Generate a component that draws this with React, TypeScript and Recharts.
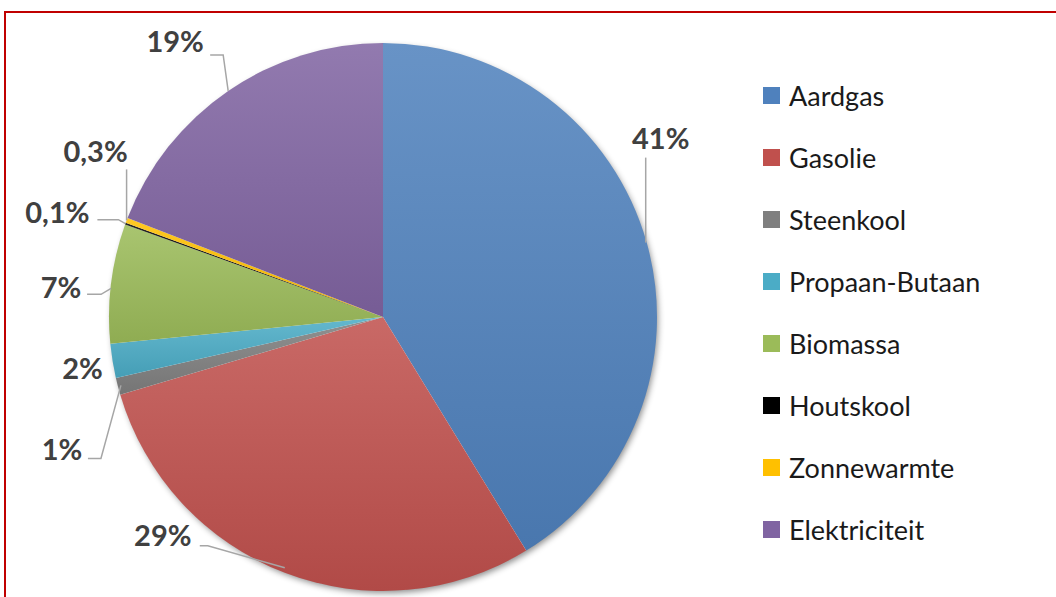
// Taartdiagram: aandeel energiedragers (Recharts)
import { PieChart, Pie, Cell, Legend } from 'recharts';

const categories = [
  'Aardgas',
  'Gasolie',
  'Steenkool',
  'Propaan-Butaan',
  'Biomassa',
  'Houtskool',
  'Zonnewarmte',
  'Elektriciteit',
];

// aandeel in %
const shares = [41, 29, 1, 2, 7, 0.1, 0.3, 19];

// Excel 2010 standaardkleuren
const COLORS = ['#4F81BD', '#C0504D', '#7F7F7F', '#4BACC6', '#9BBB59', '#000000', '#FFC000', '#8064A2'];

// label-plaatsing t.o.v. het punt op de rand (zoals handmatig verschoven in Excel)
const LABEL_POS: Record<string, { dx: number; dy: number; leader: number[][] }> = {
  Aardgas: { dx: 14, dy: -105, leader: [[-1, 0], [-1, -85]] },
  Gasolie: { dx: -122, dy: -38, leader: [[0, -5], [-77, -27], [-85, -27]] },
  Steenkool: { dx: -56, dy: 62, leader: [[3, -1], [-17, 72], [-30, 72]] },
  'Propaan-Butaan': { dx: -30, dy: 7, leader: [] },
  Biomassa: { dx: -50, dy: 3, leader: [[0, 5], [-10, 11], [-24, 11]] },
  Houtskool: { dx: -68, dy: -12, leader: [[0, 0], [-7, -4], [-28, -4]] },
  Zonnewarmte: { dx: -31, dy: -70, leader: [[0, 0], [0, -51]] },
  Elektriciteit: { dx: -53, dy: -50, leader: [[0, 0], [-5, -36], [-18, -36]] },
};

const FONT = 'Lato, "Open Sans", sans-serif';
const RAD = Math.PI / 180;

const data = categories.map((name, i) => ({ name, value: shares[i] }));
const shadowData = [{ name: 'schaduw', value: shares.reduce((a, b) => a + b, 0) }];

// mengt een hex-kleur met wit (t > 0) of zwart (t < 0)
function shade(hex: string, t: number): string {
  const n = parseInt(hex.slice(1), 16);
  const target = t > 0 ? 255 : 0;
  const k = Math.abs(t);
  const ch = [(n >> 16) & 255, (n >> 8) & 255, n & 255].map(c => Math.round(c + (target - c) * k));
  return `rgb(${ch.join(',')})`;
}

function formatPct(v: number): string {
  return v >= 1 ? `${Math.round(v)}%` : `${String(v).replace('.', ',')}%`;
}

function renderLabel(props: any) {
  const { cx, cy, midAngle, outerRadius, name, value } = props;
  const ax = cx + outerRadius * Math.cos(-midAngle * RAD);
  const ay = cy + outerRadius * Math.sin(-midAngle * RAD);
  const pos = LABEL_POS[name] ?? { dx: 0, dy: -30, leader: [] };
  const points = pos.leader.map(([x, y]) => `${ax + x},${ay + y}`).join(' ');
  return (
    <g key={`lbl-${name}`}>
      {pos.leader.length > 1 && (
        <polyline points={points} fill="none" stroke="#A6A6A6" strokeWidth={1.5} />
      )}
      <text
        x={ax + pos.dx}
        y={ay + pos.dy}
        textAnchor="middle"
        dominantBaseline="central"
        fill="#404040"
        fontFamily={FONT}
        fontWeight={700}
        fontSize={29}
      >
        {formatPct(value)}
      </text>
    </g>
  );
}

function renderLegend() {
  return (
    <div style={{ fontFamily: FONT }}>
      {categories.map((name, i) => (
        <div key={name} style={{ display: 'flex', alignItems: 'center', height: 62 }}>
          <span
            style={{
              display: 'inline-block',
              width: 17,
              height: 17,
              background: COLORS[i],
              marginRight: 9,
            }}
          />
          <span style={{ fontSize: 27, color: '#1A1A1A' }}>{name}</span>
        </div>
      ))}
    </div>
  );
}

export default function App() {
  return (
    <div
      style={{
        position: 'absolute',
        left: 0,
        top: 0,
        width: 1056,
        height: 597,
        overflow: 'hidden',
        background: '#fff',
      }}
    >
      <div
        style={{
          position: 'absolute',
          left: 4,
          top: 11,
          width: 1080,
          height: 620,
          border: '2px solid #C00000',
          boxSizing: 'border-box',
        }}
      />
      <div style={{ position: 'absolute', left: 0, top: 0 }}>
        <PieChart width={1056} height={597} margin={{ top: 0, right: 0, bottom: 0, left: 0 }}>
          <defs>
            {COLORS.map((c, i) => (
              <linearGradient key={c} id={`grad-${i}`} x1="0" y1="0" x2="0" y2="1">
                <stop offset="0%" stopColor={shade(c, 0.14)} />
                <stop offset="100%" stopColor={shade(c, -0.08)} />
              </linearGradient>
            ))}
            <filter id="pieShadow" x="-10%" y="-10%" width="120%" height="120%">
              <feDropShadow dx={2} dy={3} stdDeviation={3} floodColor="#000" floodOpacity={0.45} />
            </filter>
          </defs>
          <Pie
            data={shadowData}
            dataKey="value"
            cx={383}
            cy={317}
            outerRadius={273}
            startAngle={90}
            endAngle={-270}
            stroke="none"
            fill="#fff"
            style={{ filter: 'url(#pieShadow)' }}
            isAnimationActive={false}
            legendType="none"
          />
          <Pie
            data={data}
            dataKey="value"
            nameKey="name"
            cx={383}
            cy={317}
            outerRadius={274}
            startAngle={90}
            endAngle={-270}
            stroke="none"
            label={renderLabel}
            labelLine={false}
            isAnimationActive={false}
          >
            {data.map((d, i) => (
              <Cell key={d.name} fill={`url(#grad-${i})`} />
            ))}
          </Pie>
          <Legend
            content={renderLegend}
            layout="vertical"
            wrapperStyle={{ position: 'absolute', left: 763, top: 64, width: 290 }}
          />
        </PieChart>
      </div>
    </div>
  );
}
